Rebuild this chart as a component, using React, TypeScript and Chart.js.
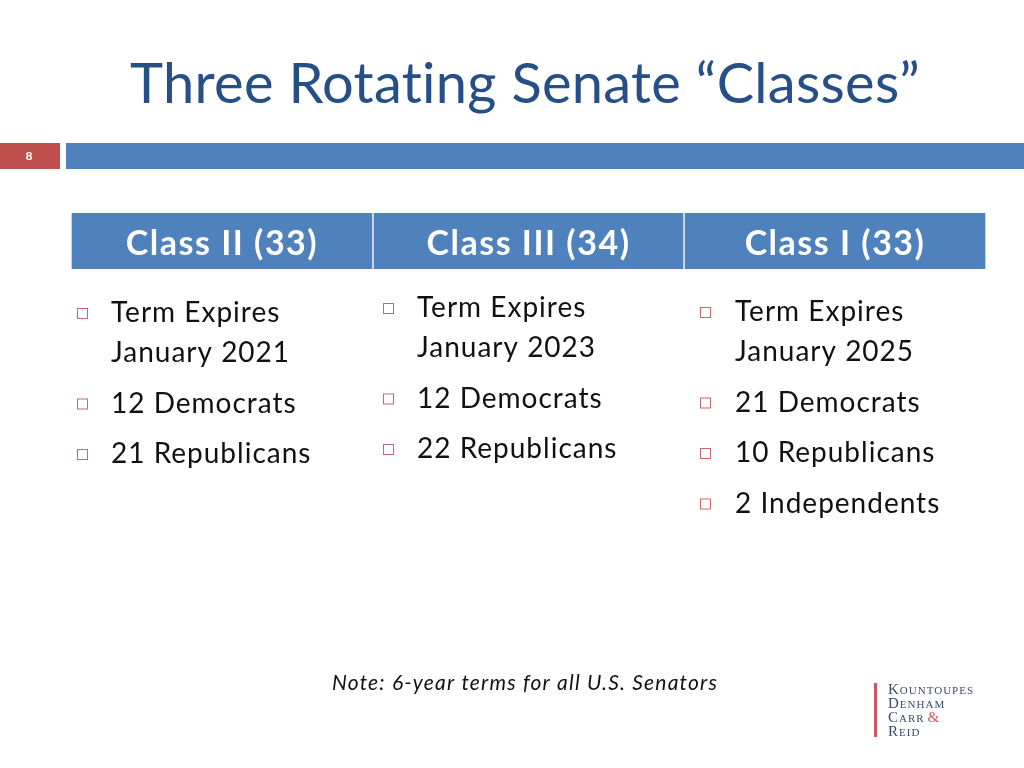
import React, { useEffect, useRef } from "react";
import { Chart, registerables } from "chart.js";

Chart.register(...registerables);

// ---- Data ----
const slideTitle = "Three Rotating Senate \u201CClasses\u201D";
const slideNumber = "8";
const classNames = ["Class II", "Class III", "Class I"];
const seatCounts = [33, 34, 33];
const termExpires = ["January 2021", "January 2023", "January 2025"];
const democrats = [12, 12, 21];
const republicans = [21, 22, 10];
const independents = [0, 0, 2];
const noteText = "Note: 6-year terms for all U.S. Senators";
const logoLines = ["Kountoupes", "Denham", "Carr", "Reid"];

// ---- Layout / style ----
const W = 1024;
const H = 768;
const FONT = "Lato, 'Open Sans', sans-serif";
const headerBlue = "#4F81BD";
const titleBlue = "#264E87";
const accentRed = "#C0504D";
const bulletX = [77, 383, 700];
const textX = [111, 417, 735];
const colShift = [0, -5, -1];

function bulletItems(i: number): string[][] {
  const items: string[][] = [["Term Expires", termExpires[i]]];
  items.push([`${democrats[i]} Democrats`]);
  items.push([`${republicans[i]} Republicans`]);
  if (independents[i] > 0) items.push([`${independents[i]} Independents`]);
  return items;
}

function setSpacing(ctx: any, px: number) {
  if ("letterSpacing" in ctx) ctx.letterSpacing = `${px}px`;
}

const slidePlugin = {
  id: "slideDecor",
  beforeDraw(chart: any) {
    const ctx = chart.ctx;
    ctx.save();
    ctx.fillStyle = "#ffffff";
    ctx.fillRect(0, 0, W, H);
    // title
    ctx.fillStyle = titleBlue;
    ctx.font = `400 56px ${FONT}`;
    setSpacing(ctx, 0.3);
    ctx.textAlign = "center";
    ctx.textBaseline = "alphabetic";
    ctx.fillText(slideTitle, 525, 103);
    setSpacing(ctx, 0);
    // slide number bar
    ctx.fillStyle = accentRed;
    ctx.fillRect(0, 143, 60, 26);
    ctx.fillStyle = headerBlue;
    ctx.fillRect(66, 143, W - 66, 26);
    ctx.fillStyle = "#ffffff";
    ctx.font = `700 12px ${FONT}`;
    ctx.textBaseline = "middle";
    ctx.fillText(slideNumber, 29, 156);
    ctx.restore();
  },
  afterDatasetsDraw(chart: any) {
    const ctx = chart.ctx;
    ctx.save();
    // header labels
    ctx.fillStyle = "#ffffff";
    ctx.font = `700 34px ${FONT}`;
    setSpacing(ctx, 1.5);
    ctx.textAlign = "center";
    ctx.textBaseline = "alphabetic";
    chart.data.datasets.forEach((ds: any, i: number) => {
      const el = chart.getDatasetMeta(i).data[0];
      const cx = (el.x + el.base) / 2;
      ctx.fillText(`${ds.label} (${ds.data[0]})`, cx, el.y + 14);
    });
    // bullets
    ctx.textAlign = "left";
    ctx.font = `400 28px ${FONT}`;
    setSpacing(ctx, 1);
    for (let i = 0; i < classNames.length; i++) {
      let y = 322 + colShift[i];
      bulletItems(i).forEach((lines) => {
        ctx.strokeStyle = "#C8676A";
        ctx.lineWidth = 1;
        ctx.strokeRect(bulletX[i] + 0.5, y - 13.5, 10, 10);
        lines.forEach((line, k) => {
          ctx.fillStyle = "#111111";
          ctx.fillText(line, textX[i], y);
          if (k < lines.length - 1) y += 40;
        });
        y += 50.5;
      });
    }
    // note
    ctx.font = `italic 400 21px ${FONT}`;
    setSpacing(ctx, 1.2);
    ctx.fillStyle = "#111111";
    ctx.textAlign = "center";
    ctx.fillText(noteText, 525, 690);
    // logo
    ctx.fillStyle = "#D45565";
    ctx.fillRect(874, 683, 3, 54);
    ctx.textAlign = "left";
    ctx.font = `small-caps 400 15px 'Liberation Serif', serif`;
    setSpacing(ctx, 1);
    logoLines.forEach((t, k) => {
      ctx.fillStyle = "#3B4A6B";
      ctx.fillText(t, 888, 694 + k * 14);
      if (t === "Carr") {
        const w = ctx.measureText(t).width;
        ctx.fillStyle = "#D45565";
        ctx.fillText("&", 888 + w + 3, 694 + k * 14);
      }
    });
    ctx.restore();
  },
};

export default function App() {
  const ref = useRef<HTMLCanvasElement | null>(null);
  useEffect(() => {
    document.body.style.margin = "0";
    const chart = new Chart(ref.current as HTMLCanvasElement, {
      type: "bar",
      data: {
        labels: ["Senate"],
        datasets: classNames.map((name, i) => ({
          label: name,
          data: [seatCounts[i]],
          backgroundColor: headerBlue,
          borderColor: "#ffffff",
          borderWidth: { left: 1, right: 1, top: 0, bottom: 0 },
          borderSkipped: false,
          barPercentage: 1,
          categoryPercentage: 1,
        })),
      },
      options: {
        indexAxis: "y",
        responsive: false,
        animation: false,
        events: [],
        layout: { padding: { left: 71, right: 38, top: 213, bottom: H - 269 } },
        plugins: { legend: { display: false }, tooltip: { enabled: false } },
        scales: {
          x: { stacked: true, display: false, min: 0, max: 100 },
          y: { stacked: true, display: false },
        },
      },
      plugins: [slidePlugin],
    });
    return () => chart.destroy();
  }, []);
  return (
    <div style={{ position: "absolute", left: 0, top: 0, width: W, height: H }}>
      <canvas ref={ref} width={W} height={H} />
    </div>
  );
}
